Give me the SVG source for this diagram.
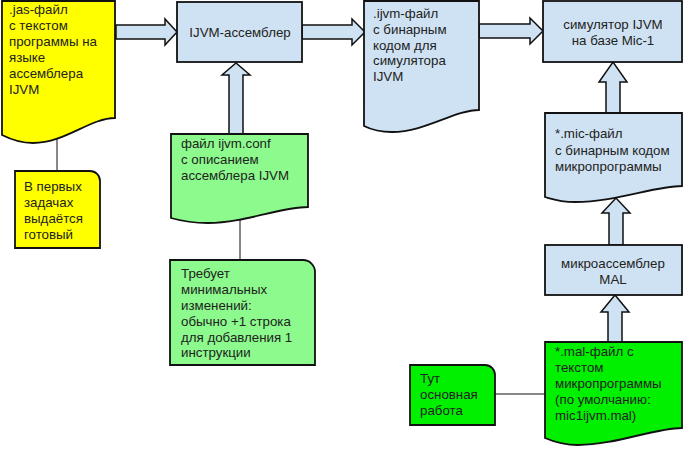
<svg xmlns="http://www.w3.org/2000/svg" width="684" height="449" viewBox="0 0 684 449">
<style>
text{font-family:"Liberation Sans",Arial,sans-serif;font-size:13.3px;fill:#222}
.c{text-anchor:middle}
.blue{fill:#cfe2f3;stroke:#111;stroke-width:1.8}
.yel{fill:#ffff00;stroke:#111;stroke-width:1.8}
.lg{fill:#8cfa8c;stroke:#111;stroke-width:1.8}
.bg{fill:#00f000;stroke:#111;stroke-width:1.8}
.arr{fill:#cfe2f3;stroke:#111;stroke-width:1.5;stroke-linejoin:miter}
.ln{stroke:#111;stroke-width:1;fill:none}
</style>
<rect width="684" height="449" fill="#fff"/>
<g id="connectors">
<line class="ln" x1="57" y1="130" x2="57" y2="171"/>
<line class="ln" x1="240" y1="215" x2="240" y2="260"/>
<line class="ln" x1="495" y1="394" x2="546" y2="394"/>
<path class="arr" d="M116,25 H165 V19 L177,32 L165,45 V39 H116 Z"/>
<path class="arr" d="M302,25 H352 V19 L365,32 L352,45 V39 H302 Z"/>
<path class="arr" d="M479,24 H530 V18 L543,31 L530,44 V38 H479 Z"/>
<path class="arr" d="M229,134 V75 H222 L236,63 L250,75 H243 V134 Z"/>
<path class="arr" d="M606,113 V82 H599 L613,62 L627,82 H620 V113 Z"/>
<path class="arr" d="M609,245 V213 H602 L616,198 L630,213 H623 V245 Z"/>
<path class="arr" d="M608,342 V312 H601 L615,295 L629,312 H622 V342 Z"/>
</g>
<g id="jas">
<path class="yel" d="M2,1 H115 V118 C90,118 65,143 33,143 C18,143 8,138 2,135 Z"/>
<text x="9" y="14">.jas-файл</text>
<text x="9" y="30">с текстом</text>
<text x="9" y="46">программы на</text>
<text x="9" y="62">языке</text>
<text x="9" y="78">ассемблера</text>
<text x="9" y="94">IJVM</text>
</g>
<g id="note-ready">
<path class="yel" d="M15,171 H90 A10,10 0 0 1 100,181 V248 H15 Z"/>
<text x="24" y="191">В первых</text>
<text x="24" y="207">задачах</text>
<text x="24" y="223">выдаётся</text>
<text x="24" y="239">готовый</text>
</g>
<g id="ijvm-asm">
<rect class="blue" x="177" y="2" width="125" height="60"/>
<text class="c" x="240" y="37">IJVM-ассемблер</text>
</g>
<g id="ijvm-file">
<path class="blue" d="M364,1 H479 V110 C455,110 425,132 392,132 C378,132 370,129 364,126 Z"/>
<text x="373" y="18">.ijvm-файл</text>
<text x="373" y="34">с бинарным</text>
<text x="373" y="50">кодом для</text>
<text x="373" y="65">симулятора</text>
<text x="373" y="81">IJVM</text>
</g>
<g id="simulator">
<rect class="blue" x="543" y="1" width="139" height="61"/>
<text class="c" x="613" y="29">симулятор IJVM</text>
<text class="c" x="613" y="45">на базе Mic-1</text>
</g>
<g id="conf">
<path class="lg" d="M171,134 H308 V207 C280,207 245,223 208,223 C190,223 178,220 171,218 Z"/>
<text x="181" y="148">файл ijvm.conf</text>
<text x="181" y="164">с описанием</text>
<text x="181" y="180">ассемблера IJVM</text>
</g>
<g id="note-conf">
<path class="lg" d="M170,260 H303 A12,12 0 0 1 315,272 V365 H170 Z"/>
<text x="181" y="278">Требует</text>
<text x="181" y="294">минимальных</text>
<text x="181" y="310">изменений:</text>
<text x="181" y="326">обычно +1 строка</text>
<text x="181" y="342">для добавления 1</text>
<text x="181" y="357">инструкции</text>
</g>
<g id="mic-file">
<path class="blue" d="M545,113 H682 V186 C655,186 615,202 575,202 C560,202 552,199 545,197 Z"/>
<text x="555" y="138">*.mic-файл</text>
<text x="555" y="155">с бинарным кодом</text>
<text x="555" y="171">микропрограммы</text>
</g>
<g id="mal-asm">
<rect class="blue" x="545" y="245" width="137" height="50"/>
<text class="c" x="613" y="268">микроассемблер</text>
<text class="c" x="613" y="284">MAL</text>
</g>
<g id="mal-file">
<path class="bg" d="M545,342 H682 V428 C655,428 615,445 578,445 C562,445 552,441 545,438 Z"/>
<text x="555" y="356">*.mal-файл с</text>
<text x="555" y="372">текстом</text>
<text x="555" y="388">микропрограммы</text>
<text x="555" y="404">(по умолчанию:</text>
<text x="555" y="420">mic1ijvm.mal)</text>
</g>
<g id="note-work">
<path class="bg" d="M410,365 H485 A10,10 0 0 1 495,375 V425 H410 Z"/>
<text x="420" y="383">Тут</text>
<text x="420" y="399">основная</text>
<text x="420" y="415">работа</text>
</g>
</svg>
